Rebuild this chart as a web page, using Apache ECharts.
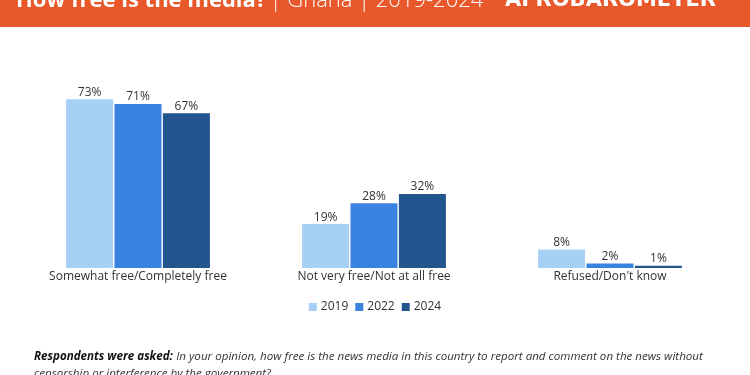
<!DOCTYPE html>
<html>
<head>
<meta charset="utf-8">
<script src="https://cdn.jsdelivr.net/npm/echarts@6/dist/echarts.min.js"></script>
<style>
  html, body { margin: 0; padding: 0; background: #fff; }
  #chart { width: 750px; height: 375px; }
</style>
</head>
<body>
<div id="chart"></div>
<script>
// categories and values
const categories = ['Somewhat free/Completely free', 'Not very free/Not at all free', "Refused/Don't know"];
const years = ['2019', '2022', '2024'];
const v2019 = [73, 19, 8];
const v2022 = [71, 28, 2];
const v2024 = [67, 32, 1];
const colors = ['#a7d0f6', '#3a82df', '#23568f'];

const chart = echarts.init(document.getElementById('chart'));
const font = 'Open Sans, sans-serif';

const seriesItem = {
  type: 'bar',
  barWidth: 47,
  barGap: '3%',
  label: {
    show: true,
    position: 'top',
    distance: 1,
    formatter: '{c}%',
    color: '#333',
    fontSize: 12,
    fontFamily: font
  }
};

chart.setOption({
  animation: false,
  legend: {
    data: years,
    top: 296,
    left: 'center',
    itemWidth: 8,
    itemHeight: 8,
    itemGap: 7,
    icon: 'rect',
    textStyle: { fontSize: 12, color: '#333', fontFamily: font, padding: [0, 0, 0, -1] }
  },
  grid: { left: 20, right: 22, top: 60, bottom: 107, containLabel: false },
  xAxis: {
    type: 'category',
    data: categories,
    axisLine: { show: false },
    axisTick: { show: false },
    axisLabel: { color: '#333', fontSize: 12, fontFamily: font, margin: 3 }
  },
  yAxis: { type: 'value', min: 0, max: 90, show: false },
  series: [
    { name: years[0], data: v2019, ...seriesItem, itemStyle: { color: colors[0] } },
    { name: years[1], data: v2022, ...seriesItem, itemStyle: { color: colors[1] } },
    { name: years[2], data: v2024, ...seriesItem, itemStyle: { color: colors[2] } }
  ],
  graphic: [
    { type: 'rect', shape: { x: 0, y: 0, width: 750, height: 27 }, style: { fill: '#e8582b' } },
    {
      type: 'text', left: 16, top: -10,
      style: {
        rich: {
          b: { fontSize: 22, fontWeight: 'bold', fill: '#fff', fontFamily: font },
          l: { fontSize: 22, fontWeight: 300, fill: '#fff', fontFamily: font }
        },
        text: '{b|How free is the media?} {l|| Ghana | 2019-2024}'
      }
    },
    {
      type: 'text', left: 505, top: -10,
      style: { text: 'AFROBAROMETER', fill: '#fff', fontSize: 21, fontWeight: 900, fontFamily: 'DejaVu Sans, sans-serif' }
    },
    {
      type: 'text', left: 34, top: 351,
      style: {
        rich: {
          b: { fontSize: 11.6, fontWeight: 'bold', fontStyle: 'italic', fill: '#111', fontFamily: font },
          i: { fontSize: 11.6, fontStyle: 'italic', fill: '#333', fontFamily: font, lineHeight: 17 }
        },
        text: '{b|Respondents were asked:} {i|In your opinion, how free is the news media in this country to report and comment on the news without}\n{i|censorship or interference by the government?}'
      }
    }
  ]
});
</script>
</body>
</html>
